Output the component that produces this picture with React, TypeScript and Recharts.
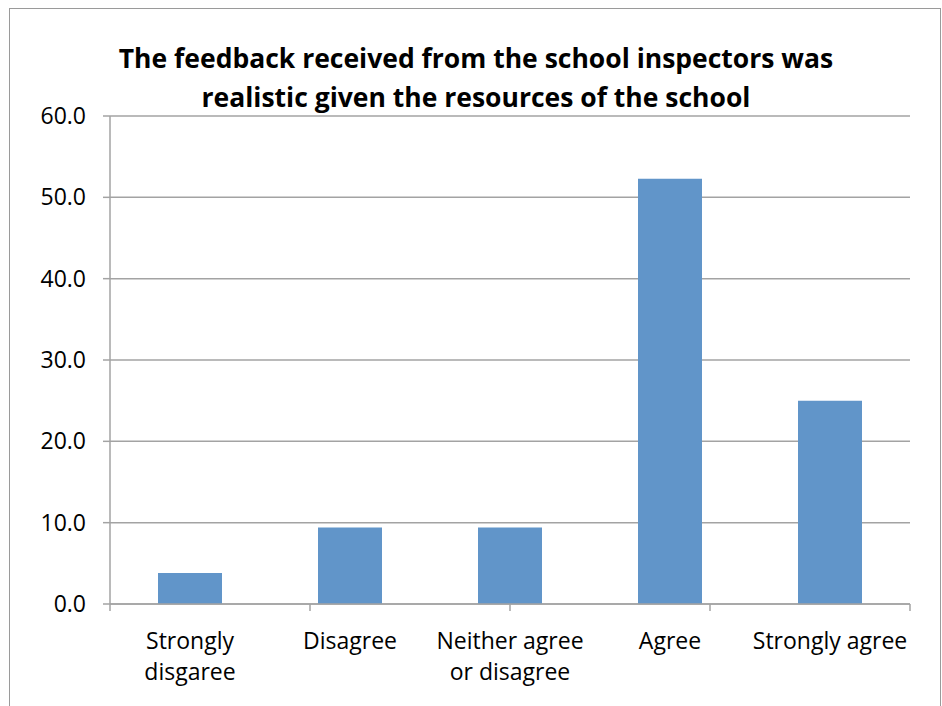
import React from 'react';
import { BarChart, Bar, XAxis, YAxis, CartesianGrid } from 'recharts';

const categories = ['Strongly disgaree', 'Disagree', 'Neither agree or disagree', 'Agree', 'Strongly agree'];
const tickLabelLines = [['Strongly', 'disgaree'], ['Disagree'], ['Neither agree', 'or disagree'], ['Agree'], ['Strongly agree']];
const percentValues = [3.8, 9.4, 9.4, 52.3, 25.0];
const yTicks = [0, 10, 20, 30, 40, 50, 60];
const edgeTicks = [0, 1, 2, 3, 4, 5];

const titleLines = ['The feedback received from the school inspectors was', 'realistic given the resources of the school'];

const data = categories.map((name, i) => ({ name, value: percentValues[i] }));

const FONT = '"Open Sans", "Liberation Sans", sans-serif';
const GRID = '#a3a3a3';

const CategoryTick = (props: any) => {
    const { x, y, payload } = props;
    const lines = tickLabelLines[payload.index] || [payload.value];
    return (
        <text x={x} y={y} textAnchor="middle" fill="#000" fontSize={23} fontFamily={FONT}>
            {lines.map((line: string, i: number) => (
                <tspan key={i} x={x} dy={i === 0 ? 30 : 31}>{line}</tspan>
            ))}
        </text>
    );
};

// only the tick marks at category edges are wanted, no text
const NoLabel = () => <g />;

export default function App() {
    return (
        <div style={{ position: 'absolute', left: 0, top: 0, width: 942, height: 706, overflow: 'hidden', background: '#fff' }}>
            <div style={{ position: 'absolute', left: 9, top: 8, width: 930, height: 720, border: '1px solid #9a9a9a' }} />
            <div
                style={{
                    position: 'absolute', left: 0, top: 39, width: 952, textAlign: 'center',
                    fontFamily: FONT, fontWeight: 700, fontSize: 26.5, lineHeight: '39px', color: '#000',
                }}
            >
                {titleLines.map((l, i) => <div key={i}>{l}</div>)}
            </div>
            <BarChart
                width={942}
                height={706}
                data={data}
                margin={{ top: 116, right: 32, left: 0, bottom: 0 }}
                barCategoryGap="30%"
                style={{ position: 'absolute', left: 0, top: 0 }}
            >
                <CartesianGrid xAxisId="b_cat" vertical={false} stroke={GRID} strokeWidth={1.5} />
                <XAxis
                    xAxisId="a_edge"
                    type="number"
                    domain={[0, 5]}
                    ticks={edgeTicks}
                    tick={<NoLabel />}
                    tickSize={7}
                    height={7}
                    axisLine={{ stroke: GRID, strokeWidth: 1.5 }}
                    tickLine={{ stroke: GRID, strokeWidth: 1.5 }}
                />
                <XAxis
                    xAxisId="b_cat"
                    dataKey="name"
                    axisLine={false}
                    tickLine={false}
                    height={95}
                    interval={0}
                    tick={<CategoryTick />}
                />
                <YAxis
                    domain={[0, 60]}
                    ticks={yTicks}
                    width={110}
                    tickSize={7}
                    tickMargin={17}
                    tickFormatter={(v: number) => v.toFixed(1)}
                    tick={{ fontSize: 23, fill: '#000', fontFamily: FONT }}
                    axisLine={{ stroke: GRID, strokeWidth: 1.5 }}
                    tickLine={{ stroke: GRID, strokeWidth: 1.5 }}
                />
                <Bar xAxisId="b_cat" dataKey="value" fill="#6195c9" isAnimationActive={false} />
            </BarChart>
        </div>
    );
}
